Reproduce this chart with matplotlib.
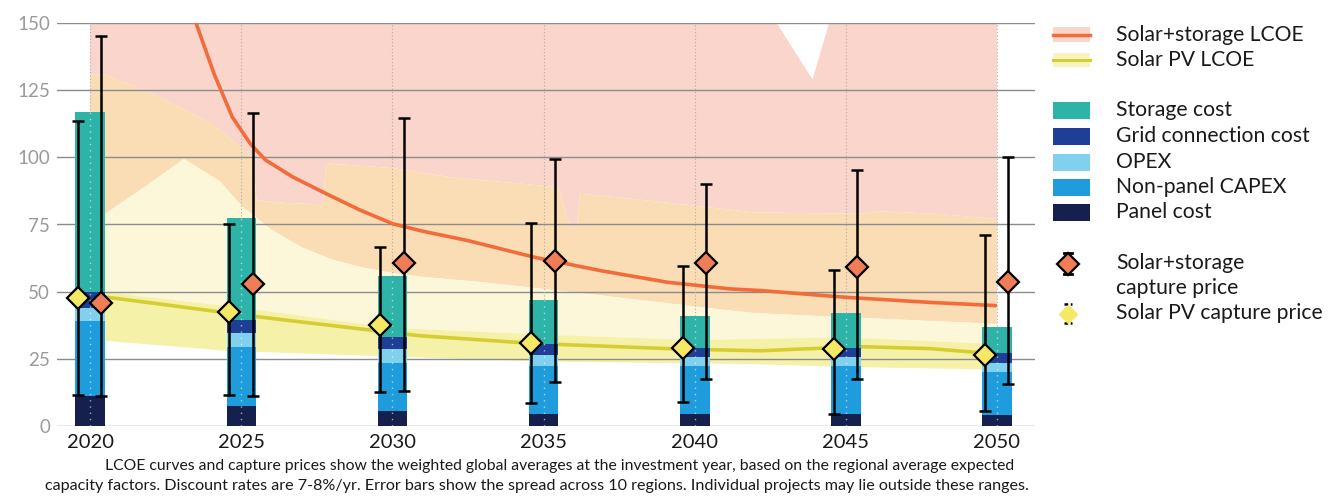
import numpy as np
import matplotlib
matplotlib.use('Agg')
from matplotlib import pyplot as plt
from matplotlib.patches import Rectangle

plt.rcParams['font.family'] = ['Lato', 'DejaVu Sans']

# bar data (USD/MWh)
years = np.array([2020, 2025, 2030, 2035, 2040, 2045, 2050])
panel_cost = np.array([11, 7.5, 5.5, 4.5, 4.5, 4.5, 4])
nonpanel_capex = np.array([28, 22, 18, 18, 18, 18, 16])
opex = np.array([5, 5, 5, 4, 3, 3, 3.5])
grid_cost = np.array([6, 5, 4.5, 4, 3.5, 3.5, 3.5])
storage_cost = np.array([67, 38, 23, 16.5, 12, 13, 10])

# capture prices with regional spread
pv_capture = np.array([47.5, 42.5, 37.5, 31, 29.2, 28.6, 26.4])
pv_capture_lo = np.array([11.5, 11.5, 12.5, 8.4, 9, 4.3, 5.6])
pv_capture_hi = np.array([113.5, 75, 66.5, 75.5, 59.4, 58.1, 71])
ss_capture = np.array([45.8, 52.9, 60.8, 61.6, 60.6, 59.3, 53.5])
ss_capture_lo = np.array([11.2, 11.2, 13.2, 16.5, 17.6, 17.4, 15.8])
ss_capture_hi = np.array([145, 116.6, 114.8, 99.2, 90.2, 95.2, 100.2])

# LCOE curves
ss_lcoe_years = [2023.2, 2023.5, 2024.1, 2024.7, 2025.3, 2025.8, 2026.7, 2027.8, 2028.9,
                 2030, 2031, 2032.5, 2034.7, 2036.9, 2039.1, 2041.2, 2042.2, 2045, 2047.8, 2050]
ss_lcoe = [160, 150, 131, 115, 105, 99, 92.7, 86.5, 80.5,
           75.3, 72.5, 69, 62.8, 57.8, 53.5, 51, 50.4, 47.9, 46, 44.8]
pv_lcoe_years = [2020, 2020.5, 2022.3, 2025, 2026.7, 2029.5, 2030.9, 2034.7, 2039.6,
                 2042.2, 2043.4, 2045.6, 2047.8, 2050]
pv_lcoe = [48.5, 48, 45.4, 41.4, 39.1, 35.4, 33.6, 30.7, 28.6,
           28, 28.6, 29.5, 28.8, 26.8]

# shaded ranges (boundaries)
pink_top_x = [2020, 2042.6, 2043.9, 2044.5, 2050]
pink_top = [152, 152, 129, 152, 152]
ss_mid_x = [2020, 2020.5, 2022.3, 2024, 2025.4, 2025.5, 2026.5, 2027.7, 2027.8, 2030, 2032,
            2035.4, 2035.5, 2035.9, 2036.1, 2036.2, 2038, 2040, 2042, 2045.5, 2046, 2048, 2050]
ss_mid = [131, 130.7, 122.6, 112.6, 100, 84, 83, 82.5, 97.8, 96, 92.5,
          89, 88.5, 74, 74, 86.5, 84.5, 82, 79.5, 79, 80, 79, 77]
ss_low_x = [2020, 2020.5, 2021.8, 2023.1, 2024.3, 2025, 2026, 2027, 2028, 2029, 2030,
            2031, 2033, 2035, 2037, 2040, 2042, 2045, 2050]
ss_low = [78, 79, 89, 99.4, 91, 82, 73, 66.5, 62, 59, 57,
          55.5, 53.5, 51, 48.5, 44.5, 42, 40.5, 38]
pv_hi_x = [2020, 2025, 2030, 2035, 2040, 2045, 2050]
pv_hi = [50.5, 44, 36.5, 34, 32, 33, 30.5]
pv_lo_x = [2020, 2020.5, 2024.5, 2030.9, 2035, 2042, 2045, 2050]
pv_lo = [32, 31.7, 28, 25.5, 24, 23, 22, 21]

c_pink = '#F9D5CB'
c_orange = '#FADDB4'
c_pale = '#FBF7D8'
c_yellow = '#F6F1A9'
c_ss_line = '#F26B3A'
c_pv_line = '#D4CE33'
c_storage = '#2DB3A7'
c_grid = '#1F3F96'
c_opex = '#80D0EE'
c_capex = '#1E9CDB'
c_panel = '#15204F'

fig = plt.figure(figsize=(13.4, 4.98), dpi=100)
ax = fig.add_axes([57 / 1340, 72 / 498, 978 / 1340, 403 / 498])
ax.set_xlim(2018.9, 2051.26)
ax.set_ylim(0, 150)


def band(xu, yu, xl, yl, color):
    xs = np.r_[xu, xl[::-1]]
    ys = np.r_[yu, yl[::-1]]
    ax.fill(xs, ys, color=color, lw=0, zorder=1)


band(pink_top_x, pink_top, ss_mid_x, ss_mid, c_pink)
band(ss_mid_x, ss_mid, ss_low_x, ss_low, c_orange)
band(ss_low_x, ss_low, pv_hi_x, pv_hi, c_pale)
band(pv_hi_x, pv_hi, pv_lo_x, pv_lo, c_yellow)

# gridlines
for yv in range(0, 151, 25):
    ax.axhline(yv, color='#9a8f8f' if yv == 0 else '#8c8c8c', lw=1.0, zorder=1.5)
ax.vlines(years, 0, 150, colors='#b9aaaa', linestyles=(0, (1, 2)), lw=0.8, zorder=1.6)

# LCOE lines (behind bars)
ax.plot(ss_lcoe_years, ss_lcoe, color=c_ss_line, lw=2.6, zorder=2.5, solid_capstyle='butt')
ax.plot(pv_lcoe_years, pv_lcoe, color=c_pv_line, lw=2.6, zorder=2.5, solid_capstyle='butt')

# stacked bars
w = 0.98
bottom = np.zeros(len(years))
for vals, col in [(panel_cost, c_panel), (nonpanel_capex, c_capex), (opex, c_opex),
                  (grid_cost, c_grid), (storage_cost, c_storage)]:
    ax.bar(years, vals, width=w, bottom=bottom, color=col, lw=0, zorder=3)
    bottom = bottom + vals
ax.vlines(years, 0, bottom, colors='white', linestyles=(0, (1, 3.5)), lw=1.0, alpha=0.6, zorder=3.5)

# capture prices
xp = years - 0.4
xs = years + 0.37
ax.errorbar(xp, pv_capture, yerr=[pv_capture - pv_capture_lo, pv_capture_hi - pv_capture],
            fmt='none', ecolor='black', elinewidth=1.8, capsize=4, capthick=1.8, zorder=5)
ax.errorbar(xs, ss_capture, yerr=[ss_capture - ss_capture_lo, ss_capture_hi - ss_capture],
            fmt='none', ecolor='black', elinewidth=1.8, capsize=4, capthick=1.8, zorder=5)
ax.plot(xp, pv_capture, 'D', ms=11.5, mfc='#F4E865', mec='black', mew=1.6, zorder=6)
ax.plot(xs, ss_capture, 'D', ms=11.5, mfc='#EE7D58', mec='black', mew=1.6, zorder=6)

for s in ax.spines.values():
    s.set_visible(False)
ax.set_yticks(range(0, 151, 25))
ax.set_xticks(years)
ax.tick_params(length=0)
ax.tick_params(axis='y', labelsize=13.5, labelcolor='#9a9a9a', pad=5)
ax.tick_params(axis='x', labelsize=14.5, labelcolor='#1a1a1a', pad=6)

# legend drawn in pixel space
lax = fig.add_axes([0, 0, 1, 1], zorder=10)
lax.set_xlim(0, 1340)
lax.set_ylim(498, 0)
lax.axis('off')
lx0, lw_, tx = 1053, 37, 1116
lax.add_patch(Rectangle((lx0, 27), lw_, 15, color=c_pink, lw=0))
lax.plot([lx0, lx0 + lw_], [35, 35], color=c_ss_line, lw=2.5)
lax.add_patch(Rectangle((lx0, 53), lw_, 14, color='#F8F4C0', lw=0))
lax.plot([lx0, lx0 + lw_], [60, 60], color=c_pv_line, lw=2.2)
for yc, col in [(110, c_storage), (136, c_grid), (162, c_opex), (187, c_capex), (212, c_panel)]:
    lax.add_patch(Rectangle((lx0, yc - 8.5), lw_, 17, color=col, lw=0))
lax.plot([1068, 1068], [253, 274], color='black', lw=1.5)
lax.plot([1064, 1072], [253, 253], color='black', lw=2)
lax.plot([1064, 1072], [274, 274], color='black', lw=2)
lax.plot(1068, 263.5, 'D', ms=11.5, mfc='#EE7D58', mec='black', mew=1.6)
lax.plot([1064, 1072], [304, 304], color='black', lw=1.8, ls=(0, (1.5, 1)))
lax.plot([1064, 1072], [323, 323], color='black', lw=1.8, ls=(0, (1.5, 1)))
lax.plot(1068, 313.5, 'D', ms=9, mfc='#F4E865', mec='#F4E865', mew=1)

labels = [(35, 'Solar+storage LCOE'), (60, 'Solar PV LCOE'), (110, 'Storage cost'),
          (136, 'Grid connection cost'), (162, 'OPEX'), (187, 'Non-panel CAPEX'),
          (212, 'Panel cost'), (263, 'Solar+storage'), (288, 'capture price'),
          (313, 'Solar PV capture price')]
for yc, txt in labels:
    lax.text(tx, yc, txt, fontsize=15.2, va='center', ha='left', color='#1a1a1a')

lax.text(105, 466, 'LCOE curves and capture prices show the weighted global averages at the '
         'investment year, based on the regional average expected', fontsize=11.3,
         va='center', ha='left', color='#1a1a1a')
lax.text(45, 486, 'capacity factors. Discount rates are 7-8%/yr. Error bars show the spread '
         'across 10 regions. Individual projects may lie outside these ranges.', fontsize=11.6,
         va='center', ha='left', color='#1a1a1a')

fig.savefig('out.png', dpi=100)
